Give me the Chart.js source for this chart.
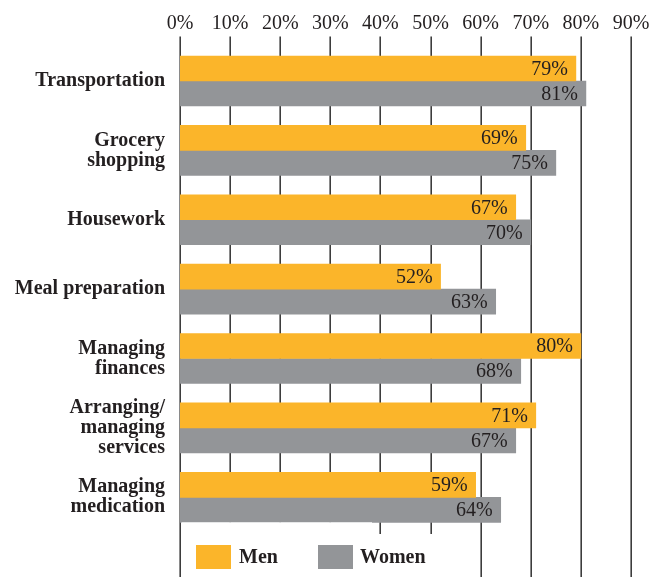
<!DOCTYPE html>
<html>
<head>
<meta charset="utf-8">
<script src="https://cdn.jsdelivr.net/npm/chart.js@4"></script>
<style>
  html, body { margin: 0; padding: 0; background: #ffffff; }
  #wrap { width: 661px; height: 577px; position: relative; }
</style>
</head>
<body>
<div id="wrap"><canvas id="c" width="661" height="577"></canvas></div>
<script>
const categories = [
  'Transportation',
  ['Grocery', 'shopping'],
  'Housework',
  'Meal preparation',
  ['Managing', 'finances'],
  ['Arranging/', 'managing', 'services'],
  ['Managing', 'medication']
];
const menValues = [79, 69, 67, 52, 80, 71, 59];
const womenValues = [81, 75, 70, 63, 68, 67, 64];
const seriesNames = ['Men', 'Women'];
const tickMin = 0;
const tickMax = 90;
const tickStep = 10;

const MEN_COLOR = '#FBB52A';
const WOMEN_COLOR = '#939598';
const TEXT_COLOR = '#231f20';
const GRID_COLOR = '#3d3d3d';
const FONT = '"Liberation Serif", "Times New Roman", serif';

const customPlugin = {
  id: 'custom',
  beforeDatasetsDraw(chart) {
    const ctx = chart.ctx;
    const xs = chart.scales.x;
    ctx.save();
    ctx.strokeStyle = GRID_COLOR;
    ctx.lineWidth = 1.6;
    xs.ticks.forEach(t => {
      const x = Math.round(xs.getPixelForValue(t.value)) + 0.2;
      ctx.beginPath();
      ctx.moveTo(x, 36.5);
      ctx.lineTo(x, chart.height);
      ctx.stroke();
    });
    ctx.restore();
  },
  afterDatasetsDraw(chart) {
    const ctx = chart.ctx;
    const xs = chart.scales.x;
    ctx.save();
    // data labels
    ctx.font = '20px ' + FONT;
    ctx.fillStyle = TEXT_COLOR;
    ctx.textAlign = 'right';
    ctx.textBaseline = 'middle';
    chart.data.datasets.forEach((ds, di) => {
      const meta = chart.getDatasetMeta(di);
      meta.data.forEach((bar, i) => {
        ctx.fillText(ds.data[i] + '%', bar.x - 8, bar.y + 1);
      });
    });
    // legend background
    const left = xs.left + 1.5;
    const lastBar = chart.getDatasetMeta(1).data[chart.data.labels.length - 1];
    const barBottom = lastBar.y + lastBar.height / 2;
    ctx.fillStyle = '#ffffff';
    ctx.fillRect(left, barBottom, 372 - left, chart.height - barBottom);
    ctx.fillRect(left, 534, 478 - left, chart.height - 534);
    // legend items
    const items = [
      { label: seriesNames[0], color: MEN_COLOR, bx: 196, tx: 239 },
      { label: seriesNames[1], color: WOMEN_COLOR, bx: 318, tx: 360 }
    ];
    ctx.textAlign = 'left';
    ctx.textBaseline = 'middle';
    ctx.font = 'bold 20px ' + FONT;
    items.forEach(it => {
      ctx.fillStyle = it.color;
      ctx.fillRect(it.bx, 545, 35, 24);
      ctx.fillStyle = TEXT_COLOR;
      ctx.fillText(it.label, it.tx, 558);
    });
    ctx.restore();
  }
};

new Chart(document.getElementById('c'), {
  type: 'bar',
  data: {
    labels: categories,
    datasets: [
      { label: seriesNames[0], data: menValues, backgroundColor: MEN_COLOR, barThickness: 25 },
      { label: seriesNames[1], data: womenValues, backgroundColor: WOMEN_COLOR, barThickness: 25 }
    ]
  },
  options: {
    indexAxis: 'y',
    responsive: false,
    animation: false,
    devicePixelRatio: 1,
    layout: { padding: { left: 0, right: 30, top: 0, bottom: 45 } },
    plugins: {
      legend: { display: false },
      tooltip: { enabled: false }
    },
    scales: {
      x: {
        position: 'top',
        min: tickMin,
        max: tickMax,
        grid: { display: false, drawTicks: false },
        border: { display: false },
        afterFit(s) { s.height = 46.3; },
        ticks: {
          stepSize: tickStep,
          padding: 10.5,
          color: TEXT_COLOR,
          font: { family: FONT, size: 20 },
          callback: v => v + '%',
          maxRotation: 0,
          autoSkip: false
        }
      },
      y: {
        grid: { display: false, drawTicks: false },
        border: { display: false },
        afterFit(s) { s.width = 180; },
        ticks: {
          padding: 15,
          color: TEXT_COLOR,
          font: { family: FONT, size: 20, weight: 'bold', lineHeight: 1.0 },
          autoSkip: false
        }
      }
    }
  },
  plugins: [customPlugin]
});
</script>
</body>
</html>
